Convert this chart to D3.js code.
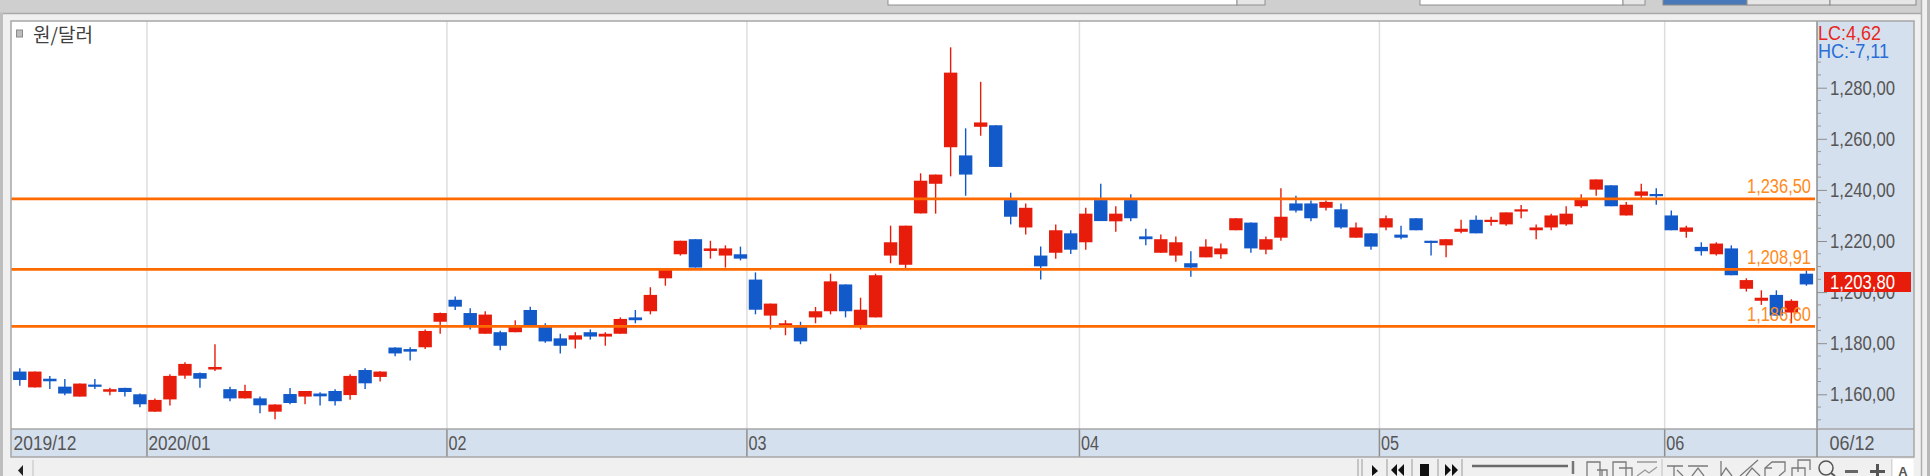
<!DOCTYPE html>
<html><head><meta charset="utf-8">
<script src="https://cdn.jsdelivr.net/npm/d3@7/dist/d3.min.js"></script>
<style>html,body{margin:0;padding:0;background:#f0f0f0;overflow:hidden}svg{display:block}text{font-family:"Noto Sans CJK KR","Liberation Sans",sans-serif}</style>
</head><body><svg id="c" width="1930" height="476"></svg>
<script>
const opens=[1168.9,1162.7,1166.1,1163.0,1159.1,1163.8,1161.0,1162.5,1160.0,1153.2,1158.0,1167.3,1168.3,1169.7,1162.0,1158.4,1158.4,1153.2,1160.1,1159.1,1160.3,1161.3,1159.7,1169.5,1166.8,1178.3,1177.7,1178.4,1188.4,1197.0,1191.8,1183.7,1184.3,1184.3,1193.0,1186.6,1181.9,1181.4,1184.3,1182.6,1183.7,1190.1,1192.5,1205.4,1214.8,1220.7,1216.1,1214.3,1214.8,1204.9,1190.8,1187.1,1186.6,1190.1,1192.5,1203.0,1186.6,1190.1,1214.3,1210.7,1230.8,1242.4,1256.7,1253.5,1264.7,1265.3,1236.0,1225.3,1214.3,1215.4,1223.0,1219.5,1236.0,1227.7,1236.0,1221.8,1215.4,1214.3,1211.3,1213.6,1214.8,1224.2,1227.2,1216.6,1221.3,1234.7,1234.7,1233.0,1232.4,1221.3,1223.0,1225.3,1222.5,1228.9,1220.1,1218.3,1223.6,1228.3,1227.7,1226.5,1231.7,1224.2,1225.3,1226.5,1233.6,1240.1,1241.8,1230.0,1237.7,1238.4,1230.0,1223.6,1217.7,1214.8,1217.1,1201.3,1196.6,1198.9,1192.0,1207.2];
const highs=[1170.2,1168.9,1167.2,1166.0,1164.2,1166.0,1162.6,1162.6,1160.3,1158.4,1167.8,1172.5,1168.5,1179.6,1163.0,1163.7,1159.1,1156.1,1162.5,1161.3,1160.8,1162.0,1167.8,1170.2,1169.0,1178.4,1178.4,1185.4,1192.0,1198.3,1193.7,1192.5,1184.9,1189.0,1194.3,1187.8,1183.7,1184.3,1185.4,1184.3,1190.1,1193.0,1201.9,1209.0,1220.1,1220.7,1220.1,1218.3,1217.8,1207.7,1195.5,1189.0,1188.4,1194.2,1207.2,1203.0,1197.8,1207.2,1226.0,1226.0,1246.5,1246.0,1295.8,1264.1,1282.3,1265.3,1238.9,1234.7,1217.8,1226.5,1224.2,1233.0,1242.4,1233.6,1238.3,1224.8,1222.5,1221.8,1216.0,1220.7,1219.0,1228.9,1227.2,1221.8,1240.6,1237.7,1235.9,1235.9,1234.7,1227.2,1223.0,1230.0,1226.0,1228.9,1220.1,1220.7,1228.3,1230.0,1229.5,1231.2,1234.1,1226.5,1230.7,1233.6,1238.3,1244.1,1241.8,1235.3,1242.4,1240.6,1231.9,1226.0,1219.5,1219.5,1218.3,1205.4,1200.7,1200.7,1197.2,1208.4];
const lows=[1163.3,1162.7,1162.1,1159.6,1159.1,1162.1,1159.6,1159.1,1154.9,1153.2,1155.6,1166.1,1162.6,1169.1,1157.3,1158.4,1152.6,1150.2,1156.1,1156.1,1155.6,1155.6,1157.9,1162.1,1165.0,1174.9,1173.2,1177.7,1183.7,1193.0,1185.4,1183.7,1177.2,1184.3,1186.6,1180.2,1176.0,1177.9,1181.4,1179.0,1183.7,1187.8,1191.3,1202.5,1214.3,1209.6,1213.1,1209.6,1212.4,1191.3,1185.4,1183.1,1179.6,1187.8,1191.3,1190.1,1185.4,1190.1,1211.3,1209.3,1230.8,1230.7,1245.3,1237.7,1261.2,1249.0,1226.5,1222.5,1204.9,1213.1,1214.9,1216.6,1227.8,1223.6,1227.7,1218.3,1215.4,1211.9,1206.0,1213.6,1213.1,1224.2,1215.4,1214.8,1220.1,1231.2,1227.7,1231.9,1224.8,1221.3,1216.6,1224.2,1220.7,1224.2,1214.3,1213.6,1223.0,1223.0,1226.0,1226.0,1228.9,1220.7,1224.2,1226.0,1233.0,1237.7,1233.6,1230.0,1236.6,1234.2,1224.2,1221.3,1214.3,1214.3,1206.6,1200.2,1195.0,1190.8,1187.8,1202.5];
const closes=[1165.6,1168.9,1165.1,1160.3,1164.2,1163.4,1162.0,1160.9,1156.1,1157.8,1167.2,1171.9,1166.1,1170.7,1158.4,1161.3,1155.7,1156.0,1156.6,1161.3,1159.2,1157.3,1167.2,1164.3,1168.9,1176.0,1176.7,1184.8,1191.8,1194.3,1187.1,1191.2,1179.0,1187.1,1187.1,1180.7,1179.0,1183.1,1182.6,1183.7,1189.5,1189.0,1198.9,1208.7,1220.1,1209.6,1217.1,1217.1,1213.1,1193.1,1195.5,1187.8,1180.7,1192.5,1204.2,1192.5,1193.1,1206.6,1219.5,1226.0,1243.6,1246.0,1285.9,1246.0,1266.4,1249.0,1229.5,1233.0,1210.1,1224.2,1216.6,1230.7,1227.8,1230.7,1228.9,1220.7,1220.7,1219.5,1209.6,1217.8,1217.1,1228.9,1217.1,1220.7,1229.5,1231.9,1228.9,1235.3,1225.3,1225.3,1217.8,1228.9,1221.3,1224.2,1219.6,1220.7,1224.8,1223.0,1228.3,1231.2,1232.4,1225.3,1230.0,1230.7,1236.6,1244.1,1233.6,1234.2,1239.4,1237.7,1224.2,1225.3,1216.0,1219.0,1206.6,1204.7,1197.8,1190.8,1196.6,1203.0];
const yTicks=[1280,1260,1240,1220,1200,1180,1160];
const levels=[1236.5,1208.91,1186.6];
const levelLabels=["1,236,50","1,208,91","1,186,60"];
const lastValue=1203.8, lastLabel="1,203,80";
const gridPos=[8.47,28.45,48.43,70.58,90.56,109.56];
const gridLabels=["2020/01","02","03","04","05","06"];
const firstLabel="2019/12", lastDate="06/12", title="원/달러";
const blue="#1259c9", red="#e71c0a", orange="#ff6a00", strip="#d5e0ee", bord="#a6a6a6";

const svg=d3.select("#c");
const P={l:11,r:1817,t:21,b:429,ax:457,yr:1914};
const x=d3.scaleLinear().domain([0,119]).range([19.8,1806.4]);
const y=d3.scaleLinear().domain([1160,1280]).range([394.3,87.7]);
const rect=(g,a,b,w,h,f,s)=>g.append("rect").attr("x",a).attr("y",b).attr("width",w).attr("height",h).attr("fill",f).attr("stroke",s||"none");
const line=(g,a,b,c,d,s,w)=>g.append("line").attr("x1",a).attr("y1",b).attr("x2",c).attr("y2",d).attr("stroke",s).attr("stroke-width",w||1);
const LS="'Liberation Sans',sans-serif";

// window chrome
const ch=svg.append("g");
rect(ch,0,0,1922,13,"#cfcfcf");
line(ch,0,13.5,1922,13.5,"#a9a9a9",1.5);
rect(ch,1927,0,3,476,"#b8b8b8"); line(ch,1921.5,0,1921.5,476,"#b0b0b0",1.5);
rect(ch,0,13,3,463,"#bdbdbd");
rect(ch,888,-1,349,6,"#fff","#909090");
rect(ch,1237,-1,28,6,"#e6e6e6","#909090");
rect(ch,1420,-1,203,6,"#fff","#909090");
rect(ch,1623,-1,22,6,"#e6e6e6","#909090");
rect(ch,1663,-1,84,6,"#4a78b8","#8a8a8a");
rect(ch,1747,-1,83,6,"#e6e6e6","#8a8a8a");
rect(ch,1830,-1,86,6,"#e6e6e6","#8a8a8a");

// panels
rect(svg,P.l,P.t,P.r-P.l,P.b-P.t,"#fff");
rect(svg,P.l,P.b,P.yr-P.l,P.ax-P.b,strip);
rect(svg,P.r,P.t,P.yr-P.r,P.b-P.t,strip);

// vertical grid
svg.selectAll(".grid").data(gridPos).join("line").attr("class","grid").attr("x1",d=>x(d)).attr("x2",d=>x(d)).attr("y1",P.t).attr("y2",P.b).attr("stroke","#dedede").attr("stroke-width",1.5);

// candles
const data=opens.map((o,i)=>({i,o,h:highs[i],l:lows[i],c:closes[i],col:closes[i]>=o?red:blue}));
const cg=svg.append("g");
cg.selectAll(".wick").data(data).join("line").attr("class","wick").attr("x1",d=>x(d.i)).attr("x2",d=>x(d.i)).attr("y1",d=>y(d.h)).attr("y2",d=>y(d.l)).attr("stroke",d=>d.col).attr("stroke-width",1.4);
cg.selectAll(".body").data(data).join("rect").attr("class","body").attr("x",d=>x(d.i)-6.7).attr("width",13.4)
  .attr("y",d=>y(Math.max(d.o,d.c))).attr("height",d=>Math.max(2.2,Math.abs(y(d.o)-y(d.c)))).attr("fill",d=>d.col);

// level lines
svg.selectAll(".lv").data(levels).join("line").attr("class","lv").attr("x1",P.l).attr("x2",1815).attr("y1",d=>y(d)).attr("y2",d=>y(d)).attr("stroke",orange).attr("stroke-width",2.9);

// y axis
const axisG=svg.append("g").attr("transform",`translate(${P.r},0)`);
axisG.call(d3.axisRight(y).tickValues(yTicks).tickSize(10).tickFormat(d=>d3.format(",")(d)+",00"));
axisG.select(".domain").attr("d",`M0,${P.t}V${P.b}`).attr("stroke","#8e8e8e").attr("stroke-width",1.5);
axisG.selectAll(".tick line").attr("stroke","#8e8e8e");
axisG.selectAll(".tick text").attr("x",13).attr("dy",0).attr("y",6.3).attr("fill","#555").attr("font-size",20).style("font-family",LS).attr("textLength",65).attr("lengthAdjust","spacingAndGlyphs");
const minor=d3.range(1150,1305,5).filter(v=>y(v)>60&&y(v)<425&&v%20!==0);
axisG.selectAll(".minor").data(minor).join("line").attr("class","minor").attr("x1",0).attr("x2",4).attr("y1",d=>y(d)).attr("y2",d=>y(d)).attr("stroke","#9a9a9a");

// level labels
svg.selectAll(".ll").data(levels).join("text").attr("class","ll").attr("x",1811).attr("y",d=>y(d)-5.8).attr("text-anchor","end").attr("fill","#ff8a22").attr("font-size",20).style("font-family",LS).attr("textLength",64).attr("lengthAdjust","spacingAndGlyphs").text((d,i)=>levelLabels[i]);

// LC/HC
svg.append("text").attr("x",1818).attr("y",40).attr("fill","#e8281c").attr("font-size",20).style("font-family",LS).attr("textLength",63).attr("lengthAdjust","spacingAndGlyphs").text("LC:4,62");
svg.append("text").attr("x",1818).attr("y",58).attr("fill","#2a6fd6").attr("font-size",20).style("font-family",LS).attr("textLength",71).attr("lengthAdjust","spacingAndGlyphs").text("HC:-7,11");

// last value tag
rect(svg,1824,272,87,20,red);
svg.append("text").attr("x",1830).attr("y",288.7).attr("fill","#fff").attr("font-size",20).style("font-family",LS).attr("textLength",65).attr("lengthAdjust","spacingAndGlyphs").text(lastLabel);

// x axis strip
svg.selectAll(".xl").data(gridPos).join("line").attr("class","xl").attr("x1",d=>x(d)).attr("x2",d=>x(d)).attr("y1",P.b).attr("y2",P.ax).attr("stroke","#8e8e8e").attr("stroke-width",1.5);
const lab=(t,xx,w)=>svg.append("text").attr("x",xx).attr("y",450).attr("fill","#555").attr("font-size",20).style("font-family",LS).attr("textLength",w).attr("lengthAdjust","spacingAndGlyphs").text(t);
lab(firstLabel,13.5,63);
gridPos.forEach((d,i)=>lab(gridLabels[i],x(d)+1.5,i==0?62:18));
lab(lastDate,1829.5,45);

// frame
svg.append("rect").attr("x",P.l).attr("y",P.t).attr("width",P.yr-P.l).attr("height",P.ax-P.t).attr("fill","none").attr("stroke",bord).attr("stroke-width",1.5);
line(svg,P.l,P.b,P.yr,P.b,bord,1.5);
line(svg,P.r,P.b,P.r,P.ax,"#8e8e8e",1.5);

// title
rect(svg,16.5,30,6,7,"#bdbdbd","#8a8a8a");
svg.append("text").attr("x",33).attr("y",41.5).attr("fill","#404040").attr("font-size",19).attr("textLength",60).attr("lengthAdjust","spacingAndGlyphs").text(title);

// bottom toolbar
const tb=svg.append("g");
line(tb,33,460,33,476,"#c0c0c0",1);
tb.append("path").attr("d","M23,465L18,470.5L23,476Z").attr("fill","#222");
[1358,1362,1387,1412,1438,1462].forEach(v=>line(tb,v,459,v,476,"#9a9a9a",1));
tb.append("path").attr("d","M1372,465L1378,471L1372,476Z").attr("fill","#111");
tb.append("path").attr("d","M1397,464L1391,470L1397,476ZM1404,464L1398,470L1404,476Z").attr("fill","#111");
rect(tb,1420,464,9,12,"#111");
tb.append("path").attr("d","M1445,464L1451,470L1445,476ZM1452,464L1458,470L1452,476Z").attr("fill","#111");
line(tb,1472,466,1568,466,"#6a6a6a",2.5);
line(tb,1573,461,1573,474,"#777",2.5);
const ico=(d,s)=>tb.append("path").attr("d",d).attr("fill","none").attr("stroke",s||"#7a7a7a").attr("stroke-width",1.3);
ico("M1587,476V462H1600V476M1597,470H1607V476M1602,470V476");
ico("M1613,476V462H1626V476M1619,468H1632V476");
ico("M1637,462H1657M1637,476L1645,470L1649,473L1657,467","#9a9a9a");
line(tb,1662,459,1662,476,"#c0c0c0",1);
ico("M1667,466H1683M1674,466V476M1677,470L1683,476");
ico("M1688,466H1708M1692,476L1698,468L1704,476");
ico("M1721,461V476M1721,476L1726,468L1732,476");
ico("M1740,476L1758,460M1746,476L1752,468L1760,476");
ico("M1765,476V468L1772,462H1785V471L1779,476M1772,468H1765");
ico("M1798,472V460H1810V470M1792,476V468H1805V476");
tb.append("circle").attr("cx",1826).attr("cy",468).attr("r",7).attr("fill","none").attr("stroke","#555").attr("stroke-width",1.5);
line(tb,1831,473,1835,476,"#555",2);
line(tb,1845,471.5,1858,471.5,"#666",3);
line(tb,1870,471.5,1885,471.5,"#555",3);
line(tb,1877.5,464,1877.5,476,"#555",3);
line(tb,1892,459,1892,476,"#bdbdbd",1);
rect(tb,1892.5,459,21,17,"#fff");
svg.append("text").attr("x",1903).attr("y",475.5).attr("text-anchor","middle").attr("font-size",13).attr("font-weight","bold").attr("fill","#555").style("font-family",LS).text("A");
</script></body></html>
